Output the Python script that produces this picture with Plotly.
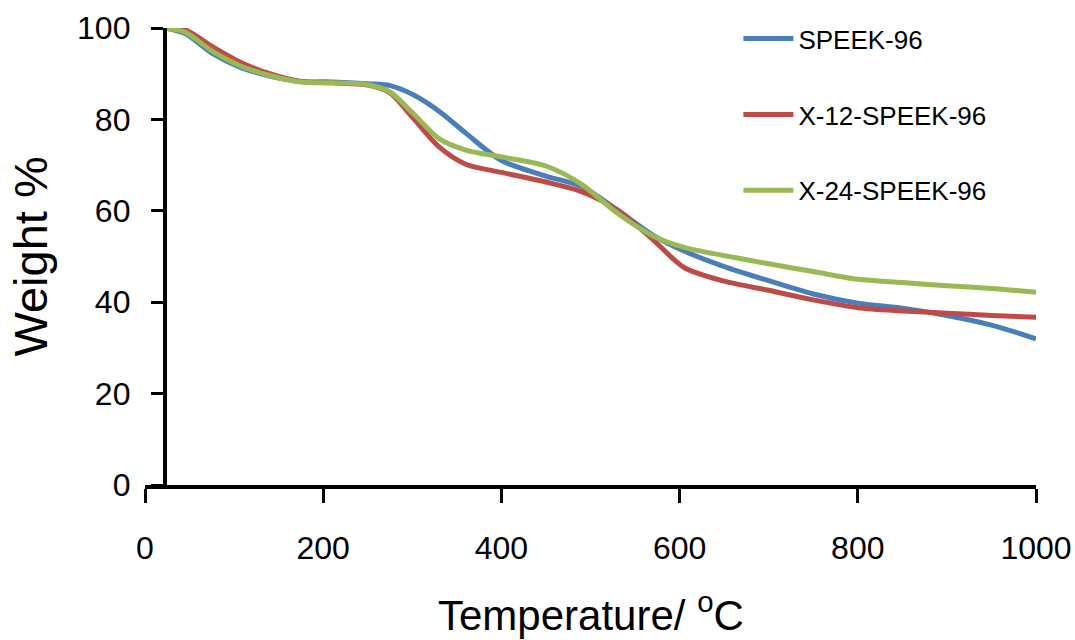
import plotly.graph_objects as go

# Temperature (°C) sampling points
temperature = [22, 45, 75, 107, 140, 175, 210, 250, 275, 300, 330, 360, 400, 450, 490,
               530, 570, 605, 650, 700, 750, 800, 850, 900, 950, 1000]

# Weight % for each membrane
speek_96 = [100, 98.8, 94.5, 91.4, 89.5, 88.3, 88.2, 87.8, 87.4, 85.5, 81.8, 77.0, 71.0, 67.6, 65.3,
            60.2, 54.7, 51.2, 47.8, 44.7, 41.8, 39.8, 38.7, 37.1, 35.0, 32.0]
x12_speek_96 = [100, 99.6, 96.0, 92.5, 90.0, 88.3, 88.0, 87.5, 85.8, 80.5, 74.0, 70.2, 68.4, 66.3, 64.2,
                60.2, 53.7, 47.6, 44.6, 42.6, 40.5, 38.8, 38.1, 37.6, 37.1, 36.7]
x24_speek_96 = [100, 99.1, 95.0, 91.7, 89.6, 88.2, 88.0, 87.6, 86.0, 81.5, 75.8, 73.3, 71.8, 69.8, 65.8,
                59.5, 54.5, 52.0, 50.2, 48.4, 46.7, 45.0, 44.3, 43.6, 43.0, 42.2]

series_names = ["SPEEK-96", "X-12-SPEEK-96", "X-24-SPEEK-96"]
series_values = [speek_96, x12_speek_96, x24_speek_96]
series_colors = ["#4A7EBB", "#BE4B48", "#98B954"]

x_ticks = [0, 200, 400, 600, 800, 1000]
y_ticks = [0, 20, 40, 60, 80, 100]

FONT = "Liberation Sans, Arial, sans-serif"

fig = go.Figure()
for name, vals, col in zip(series_names, series_values, series_colors):
    fig.add_trace(go.Scatter(
        x=temperature, y=vals, name=name, mode="lines",
        line=dict(color=col, width=5, shape="spline", smoothing=0.8),
        legendgroup=name,
    ))

fig.update_layout(
    width=1075, height=640,
    margin=dict(l=145, r=39, t=28, b=155, autoexpand=False),
    paper_bgcolor="white", plot_bgcolor="white",
    font=dict(family=FONT, color="black"),
    showlegend=True,
    legend=dict(
        x=0.666, y=1.028, xanchor="left", yanchor="top",
        bgcolor="rgba(0,0,0,0)", font=dict(size=26, family=FONT, color="black"),
        tracegroupgap=39, itemwidth=50,
    ),
    xaxis=dict(
        range=[0, 1000], tickvals=x_ticks, ticktext=[str(v) for v in x_ticks],
        showgrid=False, zeroline=False, showline=True, linecolor="black", linewidth=3.5,
        ticks="outside", ticklen=14, tickwidth=3, tickcolor="black",
        tickfont=dict(size=32, family=FONT, color="black"), ticklabelstandoff=18,
        ticklabeloverflow="allow", automargin=False,
    ),
    yaxis=dict(
        range=[0, 100], tickvals=y_ticks, ticktext=[str(v) for v in y_ticks],
        anchor="free", position=0.022,
        showgrid=False, zeroline=False, showline=True, linecolor="black", linewidth=3.5,
        ticks="outside", ticklen=12, tickwidth=3, tickcolor="black",
        tickfont=dict(size=32, family=FONT, color="black"), ticklabelstandoff=14,
        ticklabeloverflow="allow", automargin=False,
    ),
    annotations=[
        dict(text="Temperature/ <sup>o</sup>C", xref="paper", yref="paper",
             x=0.50, y=-0.278, xanchor="center", yanchor="middle", showarrow=False,
             font=dict(size=42, family=FONT, color="black")),
        dict(text="Weight %", xref="paper", yref="paper", textangle=-90,
             x=-0.129, y=0.5, xanchor="center", yanchor="middle", showarrow=False,
             font=dict(size=47, family=FONT, color="black")),
    ],
)

fig.write_html("out.html", config={"displayModeBar": False},
               post_script="document.body.style.margin='0px';")
